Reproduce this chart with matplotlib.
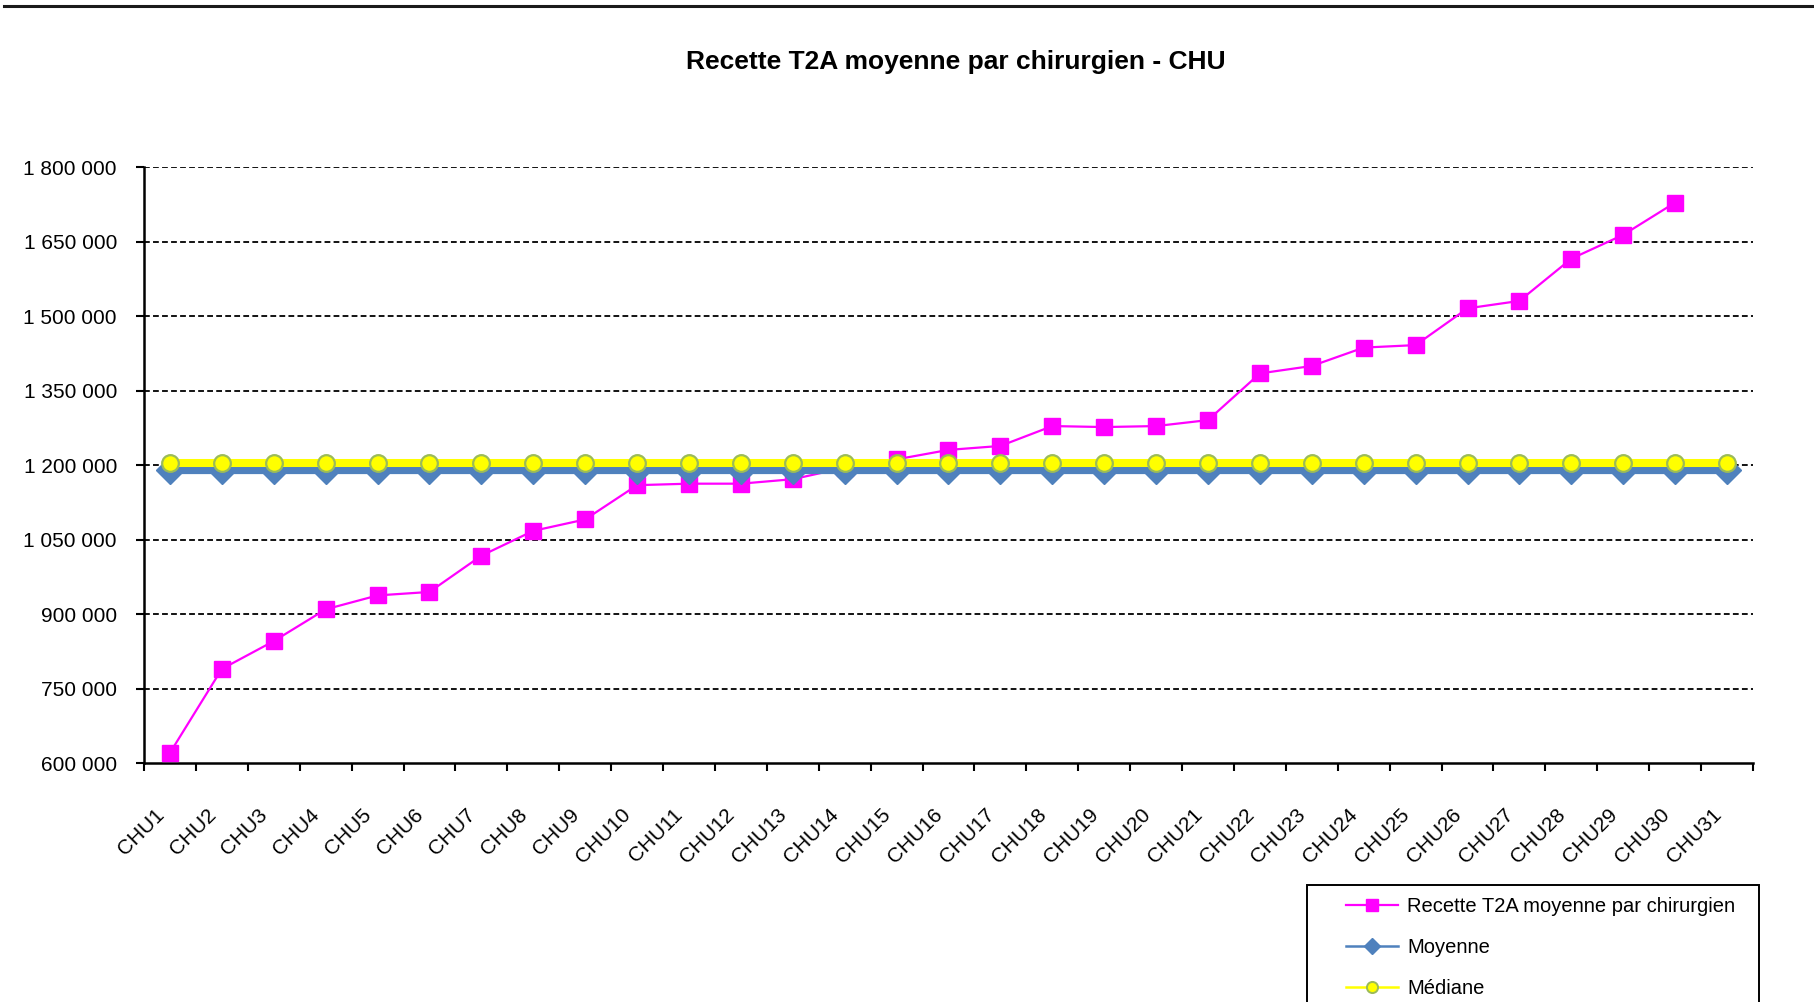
#!/usr/bin/env python3
"""
Recette T2A moyenne par chirurgien - CHU, with mean and median lines.
"""

import matplotlib
matplotlib.use("Agg")
import matplotlib.pyplot as plt
import matplotlib.ticker as mticker
from matplotlib.lines import Line2D
from matplotlib.patches import Rectangle
from matplotlib.transforms import ScaledTranslation

# Data
categories = [f"CHU{i}" for i in range(1, 32)]
recette = [621000, 790000, 846000, 910000, 938000, 945000, 1018000, 1068000,
           1091000, 1160000, 1163000, 1163000, 1172000, 1195000, 1212000,
           1231000, 1239000, 1279000, 1277000, 1279000, 1291000, 1385000,
           1400000, 1437000, 1442000, 1516000, 1531000, 1616000, 1664000,
           1729000]
moyenne = [1191000] * 31
mediane = [1205000] * 31
y_ticks = [600000, 750000, 900000, 1050000, 1200000, 1350000, 1500000,
           1650000, 1800000]

TITLE = "Recette T2A moyenne par chirurgien - CHU"
LABELS = ["Recette T2A moyenne par chirurgien", "Moyenne", "Médiane"]


def main():
    plt.rcParams["font.family"] = ["Liberation Sans", "DejaVu Sans"]

    W, H = 1815, 1002
    fig = plt.figure(figsize=(W / 100, H / 100), dpi=100, facecolor="white")

    # Axes placed in pixel terms
    left, right, top, bottom = 144, 1753, 167.3, 763.3
    ax = fig.add_axes([left / W, 1 - bottom / H, (right - left) / W, (bottom - top) / H])

    color_rec = "#FF00FF"
    color_moy = "#4F81BD"
    color_med = "#FFFF00"
    edge_med = "#9BBB59"

    x_all = list(range(1, len(categories) + 1))
    x_rec = x_all[:len(recette)]

    ax.plot(x_rec, recette, color=color_rec, linewidth=1.6, marker="s",
            markersize=11.5, markerfacecolor=color_rec, markeredgecolor=color_rec,
            zorder=3)
    ax.plot(x_all, moyenne, color=color_moy, linewidth=5.2, marker="D",
            markersize=14, markerfacecolor=color_moy, markeredgecolor=color_moy,
            zorder=4)
    ax.plot(x_all, mediane, color=color_med, linewidth=5.8, marker="o",
            markersize=12, markerfacecolor=color_med, markeredgecolor=edge_med,
            markeredgewidth=1.6, zorder=5)

    # Axes limits and ticks
    ax.set_xlim(0.5, len(categories) + 0.5)
    ax.set_ylim(y_ticks[0], y_ticks[-1])
    ax.set_yticks(y_ticks)
    ax.yaxis.set_major_formatter(
        mticker.FuncFormatter(lambda v, p: f"{v:,.0f}".replace(",", " ")))
    ax.tick_params(axis="y", direction="out", length=6, width=1.5,
                   labelsize=15, pad=13.5, colors="black")

    ax.set_xticks(x_all)
    ax.set_xticklabels(categories, rotation=45, ha="right", va="center",
                       rotation_mode="anchor")
    ax.set_xticks([i + 0.5 for i in range(0, len(categories) + 1)], minor=True)
    ax.tick_params(axis="x", which="major", length=0, labelsize=15, pad=35)
    ax.tick_params(axis="x", which="minor", direction="out", length=6, width=1.5)
    shift = ScaledTranslation(-9 / 100, 0, fig.dpi_scale_trans)
    for lab in ax.get_xticklabels():
        lab.set_transform(lab.get_transform() + shift)

    # Grid: dashed black, horizontal only
    for y in y_ticks[1:]:
        ax.axhline(y, color="black", linewidth=1.3, dashes=(3.2, 1.8), zorder=1)

    # Spines
    ax.spines["top"].set_visible(False)
    ax.spines["right"].set_visible(False)
    ax.spines["left"].set_linewidth(1.8)
    ax.spines["bottom"].set_linewidth(1.8)

    # Title
    fig.text(956 / W, 1 - 62.5 / H, TITLE, ha="center", va="center",
             fontsize=19, fontweight="bold")

    # Thick rule along the top of the picture
    fig.add_artist(Line2D([4 / W, 1], [1 - 6 / H, 1 - 6 / H], color="#1a1a1a",
                          linewidth=2.2, transform=fig.transFigure))

    # Legend frame (runs off the bottom of the picture)
    fig.add_artist(Rectangle((1307 / W, 1 - 1030 / H), (1759 - 1307) / W, (1030 - 885) / H,
                             transform=fig.transFigure, facecolor="white",
                             edgecolor="black", linewidth=1.4))
    handles = [
        Line2D([], [], color=color_rec, linewidth=1.6, marker="s", markersize=8.5,
               markerfacecolor=color_rec, markeredgecolor=color_rec),
        Line2D([], [], color=color_moy, linewidth=1.8, marker="D", markersize=8,
               markerfacecolor=color_moy, markeredgecolor=color_moy),
        Line2D([], [], color=color_med, linewidth=1.8, marker="o", markersize=8,
               markerfacecolor=color_med, markeredgecolor=edge_med, markeredgewidth=1.4),
    ]
    leg = fig.legend(handles, LABELS, loc="upper left",
                     bbox_to_anchor=(1345.7 / W, 1 - 897.5 / H),
                     frameon=False, fontsize=14.5, borderpad=0, borderaxespad=0,
                     handlelength=2.6, handletextpad=0.45, labelspacing=1.08)
    leg.set_zorder(10)

    fig.savefig("out.png", dpi=100, facecolor="white")
    plt.close(fig)


if __name__ == "__main__":
    main()
